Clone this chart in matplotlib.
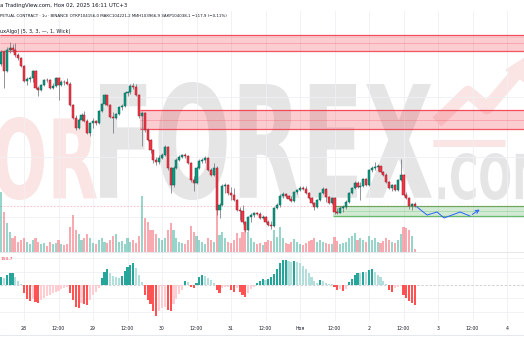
import matplotlib
matplotlib.use("Agg")
import matplotlib.pyplot as plt
from matplotlib.patches import Rectangle, PathPatch
from matplotlib.textpath import TextPath
from matplotlib.font_manager import FontProperties
from matplotlib.transforms import Affine2D

W, H = 524, 350
PX_PER_BAR = 2.875

# hourly candles, Oct 27 16:00 .. Nov 02 16:00 (UTC+3)
FIRST_OPEN = 111138
CLOSES = [
    111738, 110788, 111838, 111938, 111838, 111588, 111438, 111038, 110288, 110388,
    110438, 110788, 109938, 109838, 110088, 110338, 110318, 109938, 110038, 110438,
    110088, 110238, 110218, 110138, 109088, 108438, 107938, 108338, 108588, 108288,
    107688, 108188, 108288, 108188, 108788, 109138, 109588, 109088, 108488, 108438,
    108638, 108988, 109038, 109688, 109738, 110038, 109988, 109588, 108538, 108688,
    107838, 107338, 106838, 106338, 106238, 106438, 106588, 106988, 105938, 105088,
    105938, 106338, 106488, 106588, 106538, 106188, 105338, 105188, 105938, 106288,
    106338, 106438, 105838, 105588, 105938, 103838, 104088, 105038, 105088, 104688,
    104588, 104338, 103838, 103788, 103238, 102838, 103488, 103588, 103688, 103638,
    103438, 103488, 103238, 103088, 103038, 103938, 104088, 104538, 104638, 104538,
    104388, 104288, 104738, 104838, 104938, 104888, 104688, 104438, 104188, 103988,
    104338, 104688, 104888, 104488, 104188, 104438, 103738, 103688, 103938, 103988,
    104238, 104688, 104938, 105188, 104988, 105038, 105388, 105088, 105838, 105938,
    105988, 106038, 105738, 105588, 105238, 104938, 105088, 104838, 105338, 105588,
    104588, 104438, 104038, 104156, 104038.1,
]
HIGHS = [
    111838, 111838, 111988, 112238, 112138, 112188, 111688, 111488, 111088, 110488,
    110538, 110838, 110838, 110038, 110138, 110388, 110438, 110388, 110188, 110488,
    110488, 110338, 110338, 110438, 110238, 109138, 108588, 108438, 108688, 108788,
    108388, 108238, 108438, 108338, 108838, 109188, 109638, 109588, 109138, 108738,
    108688, 109038, 109138, 109738, 109788, 110138, 110188, 110138, 109638, 108788,
    108738, 107938, 107388, 106888, 106488, 106588, 106688, 107088, 107038, 105988,
    106038, 106438, 106588, 106638, 106688, 106588, 106238, 105538, 106038, 106388,
    106438, 106538, 106488, 105938, 106188, 106038, 104188, 105138, 105188, 105138,
    104988, 104938, 104388, 103988, 104088, 103288, 103538, 103688, 103738, 103738,
    103738, 103588, 103538, 103338, 103288, 103988, 104188, 104638, 104738, 104688,
    104588, 104538, 104788, 104888, 105038, 105038, 105038, 104738, 104488, 104238,
    104388, 104738, 104988, 104938, 104538, 104488, 104488, 103938, 104038, 104088,
    104338, 104738, 104988, 105288, 105288, 105238, 105438, 105438, 105888, 106038,
    106238, 106138, 106038, 105788, 105688, 105288, 105138, 105138, 105388, 106388,
    105638, 104738, 104488, 104188, 104221.2,
]
LOWS = [
    111038, 109938, 110738, 111688, 111738, 111488, 111338, 110988, 110238, 110088,
    110238, 110238, 109888, 109538, 109788, 110038, 110238, 109888, 109888, 109988,
    109338, 110038, 110088, 110088, 109038, 108388, 107838, 107888, 108288, 108238,
    107638, 107538, 107938, 108088, 108138, 108738, 109088, 109038, 108438, 107688,
    108388, 108588, 108838, 108988, 109538, 109638, 109888, 109538, 108438, 107038,
    107738, 107288, 106688, 106188, 106088, 106138, 106388, 106538, 105838, 104688,
    104988, 105888, 106288, 106438, 106438, 106138, 105238, 104788, 105138, 105888,
    106188, 106188, 105788, 105538, 105538, 103588, 103438, 104038, 104688, 104588,
    104338, 104288, 103788, 103338, 103138, 102738, 102788, 103238, 103488, 103588,
    103388, 103388, 103188, 103038, 102888, 102988, 103888, 103988, 104438, 104438,
    104338, 104238, 104238, 104638, 104788, 104838, 104638, 104388, 104138, 103838,
    103938, 104288, 104638, 104238, 104138, 104138, 103638, 103638, 103688, 103738,
    103888, 104188, 104638, 104888, 104938, 104338, 104988, 105038, 105038, 105738,
    105838, 105788, 105688, 105538, 105188, 104888, 104788, 104788, 104788, 105288,
    104538, 104388, 103888, 103838, 103966.9,
]
# volume, thousands BTC
VOLUMES = [
    6.0, 4.0, 2.9, 2.0, 1.4, 1.6, 1.0, 1.2, 1.4, 1.0, 0.8, 1.2, 1.4, 1.0, 0.8, 0.9,
    0.6, 1.0, 0.8, 0.9, 1.2, 0.8, 0.7, 0.8, 2.5, 3.7, 2.2, 1.8, 1.2, 1.4, 1.8, 1.4,
    0.9, 0.8, 1.2, 1.4, 1.0, 0.9, 1.2, 1.6, 1.8, 1.0, 1.1, 0.8, 1.4, 1.0, 1.2, 0.9,
    1.6, 5.6, 3.4, 3.0, 2.2, 2.2, 1.8, 1.4, 1.2, 1.4, 2.2, 2.9, 2.2, 1.4, 1.0, 0.9,
    0.8, 1.2, 2.6, 2.0, 1.6, 1.2, 1.0, 0.8, 1.4, 1.2, 1.0, 4.2, 1.7, 2.0, 1.4, 1.0,
    0.9, 1.2, 1.9, 1.4, 2.0, 2.7, 2.0, 1.4, 1.0, 0.8, 0.9, 0.7, 1.0, 1.2, 1.1, 2.2,
    1.5, 2.5, 1.4, 0.9, 0.8, 1.0, 1.3, 1.0, 0.8, 0.7, 0.9, 1.1, 1.2, 1.4, 1.0, 1.2,
    1.0, 0.9, 0.8, 0.8, 1.5, 1.1, 0.8, 0.9, 1.0, 1.4, 1.6, 1.9, 1.2, 1.4, 1.2, 1.0,
    1.6, 1.2, 1.4, 1.0, 0.9, 1.1, 1.4, 1.2, 1.0, 0.9, 1.2, 1.8, 2.5, 2.4, 2.2, 1.6,
    0.3,
]
# MACD histogram
HIST = [
    60, 52, 75, 90, 92, 60, 30, 4, -60, -105, -120, -105, -128, -135, -112, -98,
    -82, -75, -60, -52, -45, -30, -22, -15, -60, -112, -165, -172, -135, -142, -150, -112,
    -75, -52, -22, 52, 98, 120, 90, 68, 60, 52, 68, 105, 135, 150, 165, 128,
    75, 22, -75, -112, -142, -195, -232, -195, -172, -165, -188, -195, -142, -105, -68, -38,
    30, 22, -15, -22, 15, 60, 75, 68, 52, 38, 15, -38, -60, -22, -15, -12,
    -38, -52, -22, -52, -75, -90, -60, -30, -15, 15, 30, 45, 38, 45, 60, 82,
    120, 165, 188, 190, 180, 172, 178, 172, 165, 142, 120, 90, 60, 30, 15, 38,
    30, 15, 8, 4, -15, -38, -30, -45, -30, 22, 45, 75, 90, 88, 98, 96,
    112, 120, 98, 75, 60, 30, 8, -38, -52, -22, -15, -8, -75, -98, -120, -135,
    -150.7,
]

TICK_POS = list(range(8, 177, 12))
TICK_LABELS = ["28", "12:00", "29", "12:00", "30", "12:00", "31", "12:00",
               "Ноя", "12:00", "2", "12:00", "3", "12:00", "4"]

# supply / demand zones: first candle, top, bottom
ZONE_START = [0, 49, 116]
ZONE_TOP = [112590, 108838, 104038]
ZONE_BOTTOM = [111800, 107873, 103553]
ZONE_KIND = ["supply", "supply", "demand"]

# hand-drawn projection path
PROJ_T = [144.7, 148.2, 151.7, 154.1, 159.7, 163.1, 167.3]
PROJ_P = [103988, 103588, 103738, 103438, 103738, 103538, 103938]

UP, DOWN = "#089981", "#f23645"
GRID = "#eef0f4"

fig = plt.figure(figsize=(W / 100, H / 100), dpi=100)
fig.patch.set_facecolor("white")

# background layer for the watermark, pixel coordinates
bg = fig.add_axes([0, 0, 1, 1], zorder=-10)
bg.set_xlim(0, W)
bg.set_ylim(H, 0)
bg.axis("off")

def wm_text(s, x0, x1, y0, y1, color, family="DejaVu Sans"):
    tp = TextPath((0, 0), s, size=100, prop=FontProperties(family=family, weight="bold"))
    bb = tp.get_extents()
    tr = Affine2D().translate(-bb.x0, -bb.y0).scale((x1 - x0) / bb.width, -(y1 - y0) / bb.height).translate(x0, y1)
    bg.add_patch(PathPatch(tr.transform_path(tp), facecolor=color, edgecolor="none"))

wm_text("FOR", -48, 97, 117, 200, "#fbe4e4")
wm_text("FOREX", 100, 432, 82, 200, "#e5e5e5")
wm_text(".COM", 438, 548, 153, 200, "#e5e5e5")
bg.plot([437, 468, 487, 516], [122, 92, 108, 74], color="#fbe4e4", lw=9, solid_capstyle="butt")
bg.fill([506, 528, 528], [70, 56, 84], color="#fbe4e4")
bg.plot([433, 505], [143, 143], color="#fbe4e4", lw=5, solid_capstyle="butt")

def pane(top, bottom):
    a = fig.add_axes([0, 1 - bottom / H, 1, (bottom - top) / H])
    a.patch.set_visible(False)
    a.set_xlim(-1 / PX_PER_BAR, (W - 1) / PX_PER_BAR)
    for s in a.spines.values():
        s.set_visible(False)
    a.set_yticks([])
    a.tick_params(length=0, labelbottom=False)
    return a

ax = pane(11, 252)
ax.set_ylim(101738, 113788)
vol = pane(180, 252)
vol.set_ylim(0, 7.2)
ind = pane(252, 321)
ind.set_ylim(-270, 247.5)

idx = list(range(len(CLOSES)))
opens = [FIRST_OPEN] + CLOSES[:-1]
up = [c >= o for o, c in zip(opens, CLOSES)]

for a in (ax, ind):
    for t in TICK_POS:
        a.axvline(t, color=GRID, lw=0.6, zorder=0)
for p in (112500, 109500, 106500, 103500):
    ax.axhline(p, color=GRID, lw=0.6, zorder=0)
for v in (-200, -100, 100, 200):
    ind.axhline(v, color=GRID, lw=0.6, zorder=0)
ind.axhline(0, color="#c9ccd3", lw=0.6, ls=(0, (3, 2)), zorder=0)

# zones
xr = (W - 1) / PX_PER_BAR + 1
for s, t, b, k in zip(ZONE_START, ZONE_TOP, ZONE_BOTTOM, ZONE_KIND):
    c = DOWN if k == "supply" else "#4caf50"
    ax.add_patch(Rectangle((s - 0.5, b), xr - s, t - b, facecolor=c, alpha=0.25, edgecolor="none", zorder=1))
    ax.hlines([t, b], s - 0.5, xr, color=c, lw=0.9, alpha=0.85, zorder=1)
    ax.hlines((t + b) / 2, s - 0.5, xr, color=c, lw=0.5, alpha=0.35, zorder=1)

ax.axhline(CLOSES[-1], color=DOWN, lw=0.6, alpha=0.35, ls=(0, (2, 2)), zorder=1)

# candles
hi = [max(h, o, c) for h, o, c in zip(HIGHS, opens, CLOSES)]
lo = [min(l, o, c) for l, o, c in zip(LOWS, opens, CLOSES)]
ax.vlines(idx, lo, hi, color="#747780", lw=0.55, zorder=2)
body_b = [min(o, c) for o, c in zip(opens, CLOSES)]
body_h = [max(abs(c - o), 25) for o, c in zip(opens, CLOSES)]
ax.bar(idx, body_h, bottom=body_b, width=0.75,
       color=[UP if u else DOWN for u in up],
       edgecolor=["#0a6557" if u else "#9c1d29" for u in up], lw=0.35, zorder=3)

vol.bar(idx, VOLUMES, width=0.7, color=[UP if u else DOWN for u in up], alpha=0.42, lw=0)

# projection
ax.plot(PROJ_T[:-1], PROJ_P[:-1], color="#2962ff", lw=0.7, zorder=4)
ax.annotate("", xy=(PROJ_T[-1], PROJ_P[-1]), xytext=(PROJ_T[-2], PROJ_P[-2]),
            arrowprops=dict(arrowstyle="->", color="#2962ff", lw=0.7, mutation_scale=6), zorder=4)

# histogram
hcol = []
prev = 0
for v in HIST:
    if v >= 0:
        hcol.append("#26a69a" if v > prev else "#b2dfdb")
    else:
        hcol.append("#ff5252" if v < prev else "#ffcdd2")
    prev = v
ind.bar(idx, HIST, width=0.7, color=hcol, lw=0, zorder=2)

ind.set_xticks(TICK_POS)
ind.set_xticklabels(TICK_LABELS)
ind.tick_params(labelbottom=True, labelsize=3.3, labelcolor="#131722", pad=3.6)

# separators
for y in (252, 335):
    fig.add_artist(plt.Line2D([0, 1], [1 - y / H, 1 - y / H], color="#e0e3eb", lw=0.6))

# header texts (the chart is cropped on the left, so they start mid-word)
def ftext(x, y, s, color="#131722", size=3.2, ha="left"):
    fig.text(x / W, 1 - y / H, s, ha=ha, va="center", fontsize=size, color=color)

ftext(0.5, 6, "a TradingView.com, Ноя 02, 2025 16:11 UTC+3", size=3.9)
ftext(0.5, 16, "PETUAL CONTRACT · 1ч · BINANCE ОТКР104156,0 МАКС104221,2 "
      "МИН103966,9 ЗАКР104038,1 −117,9 (−0,11%)", size=2.9)
ftext(0.5, 32, "uxAlgo] (5, 3, 3, —, 1, Wick)", size=3.6)
ftext(0.5, 259, "150,7", color=DOWN)

fig.savefig("out.png", dpi=100)
